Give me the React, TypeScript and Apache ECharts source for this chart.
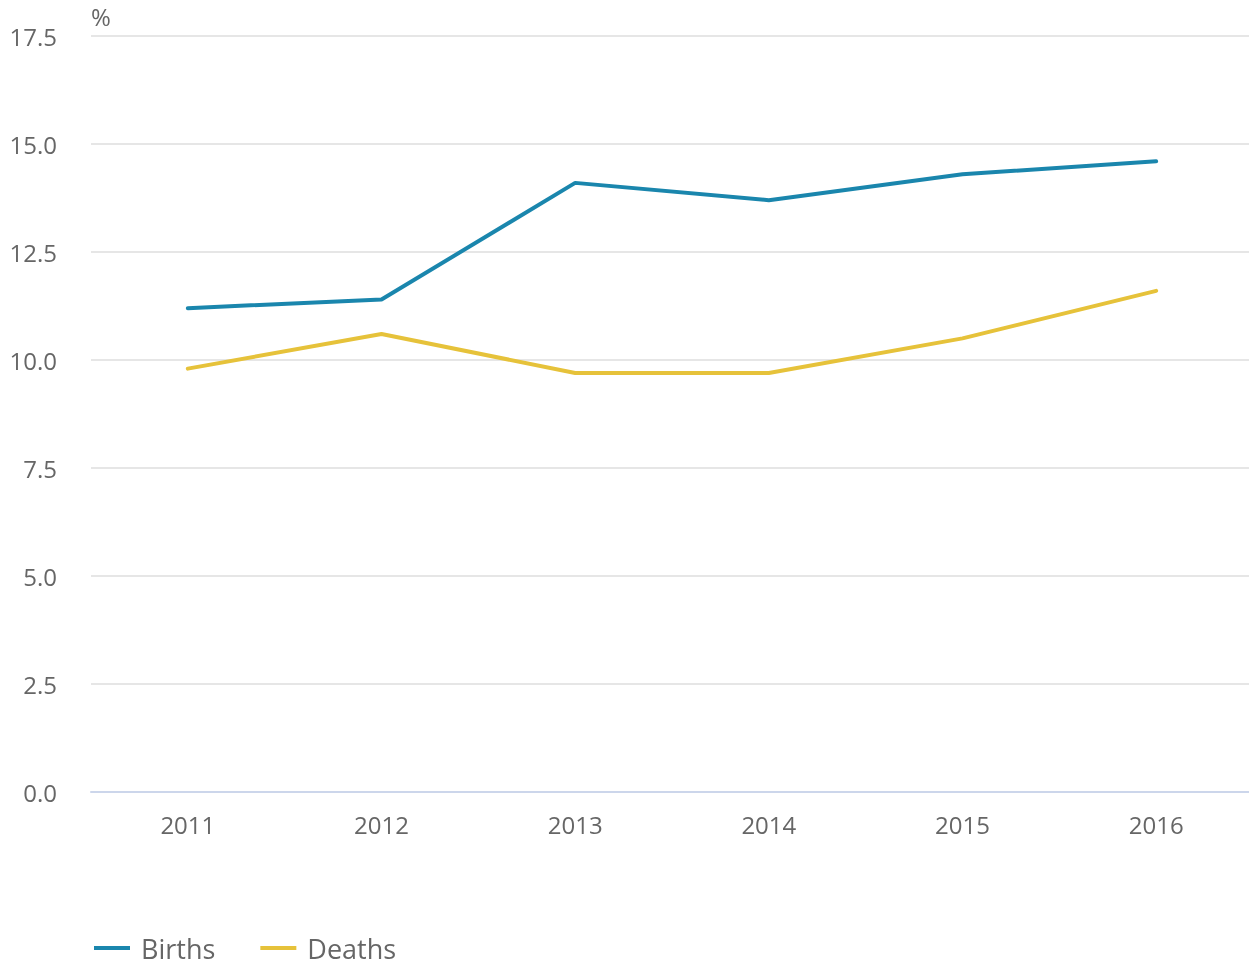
import React, { useEffect, useRef } from "react";
import * as echarts from "echarts";

const years = ["2011", "2012", "2013", "2014", "2015", "2016"];
const births = [11.2, 11.4, 14.1, 13.7, 14.3, 14.6];
const deaths = [9.8, 10.6, 9.7, 9.7, 10.5, 11.6];

export default function App() {
  const ref = useRef<HTMLDivElement>(null);
  useEffect(() => {
    const chart = echarts.init(ref.current!, null, { renderer: "svg" });
    const font = "'Open Sans', sans-serif";
    chart.setOption({
      animation: false,
      textStyle: { fontFamily: font },
      grid: { left: 91, right: 0, top: 36, bottom: 168 },
      legend: {
        left: 89,
        top: 929,
        padding: [5, 5, 0, 5],
        icon: "rect",
        itemWidth: 36,
        itemHeight: 4,
        itemGap: 45,
        textStyle: { fontSize: 27, lineHeight: 28, color: "#666666", fontFamily: font, padding: [0, 0, 0, 6] },
        data: ["Births", "Deaths"],
      },
      xAxis: {
        type: "category",
        data: years,
        boundaryGap: true,
        axisLine: { lineStyle: { color: "#ccd6eb", width: 2 } },
        axisTick: { alignWithLabel: true, length: 20, lineStyle: { color: "#ccd6eb", width: 2 } },
        axisLabel: { color: "#666666", fontSize: 24, margin: 20, fontFamily: font },
      },
      yAxis: {
        type: "value",
        min: 0,
        max: 17.5,
        interval: 2.5,
        name: "%",
        nameLocation: "end",
        nameGap: 8,
        nameTextStyle: { align: "left", color: "#666666", fontSize: 24, fontFamily: font },
        axisLine: { show: false },
        axisTick: { show: false },
        axisLabel: {
          color: "#666666",
          fontSize: 24,
          margin: 34,
          fontFamily: font,
          formatter: (v: number) => v.toFixed(1),
        },
        splitLine: { lineStyle: { color: "#e6e6e6", width: 2 } },
      },
      series: [
        {
          name: "Births",
          type: "line",
          data: births,
          showSymbol: false,
          symbol: "none",
          lineStyle: { color: "#1a86ad", width: 4, cap: "round" },
          itemStyle: { color: "#1a86ad" },
        },
        {
          name: "Deaths",
          type: "line",
          data: deaths,
          showSymbol: false,
          symbol: "none",
          lineStyle: { color: "#e6c23a", width: 4, cap: "round" },
          itemStyle: { color: "#e6c23a" },
        },
      ],
    });
    return () => chart.dispose();
  }, []);
  return (
    <div
      ref={ref}
      style={{ position: "fixed", left: 0, top: 0, width: 1253, height: 960 }}
    />
  );
}
